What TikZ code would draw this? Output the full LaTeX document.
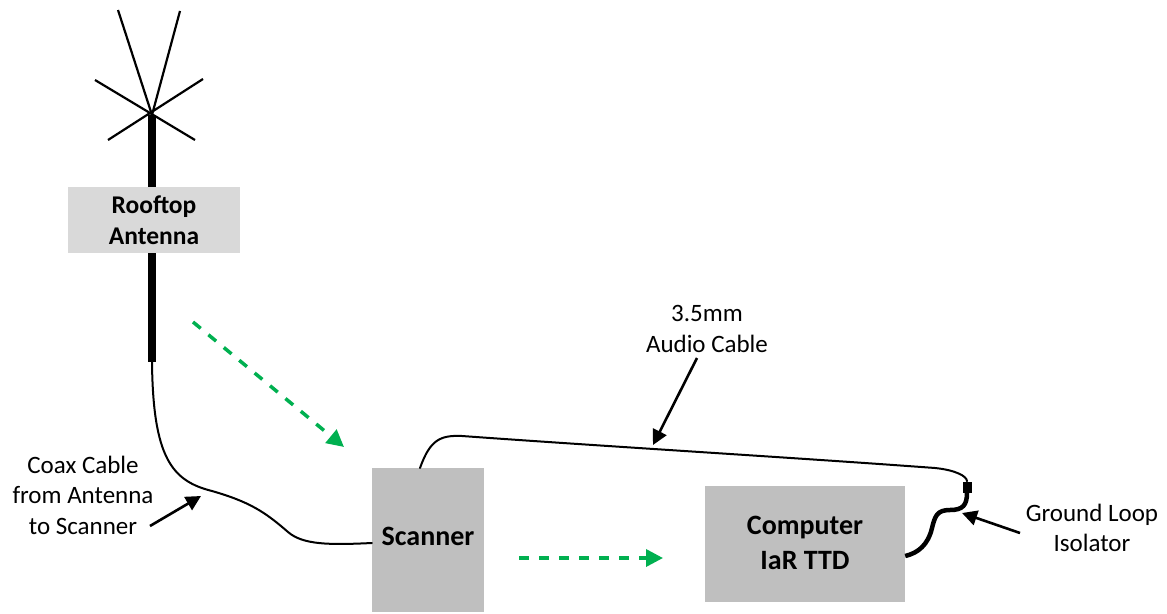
\documentclass[tikz,border=0pt]{standalone}
\usepackage{fontspec}
\setmainfont{Carlito}
\usetikzlibrary{arrows.meta}
\definecolor{boxlight}{HTML}{D9D9D9}
\definecolor{boxgray}{HTML}{BFBFBF}
\definecolor{flowgreen}{HTML}{00B050}
\tikzset{
  lbl/.style={align=center, font=\fontsize{25}{30.5}\selectfont, inner sep=0pt},
  boxlbl/.style={align=center, font=\bfseries\fontsize{28}{35}\selectfont, inner sep=0pt},
  callout/.style={line width=2.6pt, -{Triangle[length=15pt,width=15pt]}},
  flow/.style={line width=3.5pt, flowgreen, dash pattern=on 10pt off 10pt, -{Triangle[length=17pt,width=17pt]}},
  cable/.style={line width=2pt, line cap=round},
  spoke/.style={line width=2.2pt},
}
\begin{document}
\begin{tikzpicture}[x=1pt,y=-1pt]
\useasboundingbox (0,0) rectangle (1167,613);
% antenna
\coordinate (ant) at (152,115);
\coordinate (mastbot) at (152,362);
\draw[spoke] (118,10) -- (ant);
\draw[spoke] (180,11) -- (ant);
\draw[spoke] (95,80) -- (195,140);
\draw[spoke] (203,79) -- (108,140);
\draw[line width=7.5pt] (ant) -- (mastbot);
\node[fill=boxlight, minimum width=172pt, minimum height=66pt, inner sep=0pt] (roof) at (154,220) {};
\node[boxlbl, font=\bfseries\fontsize{25.5}{31}\selectfont] at (roof) {Rooftop\\Antenna};
% boxes
\node[fill=boxgray, minimum width=112pt, minimum height=144pt, inner sep=0pt] (scan) at (428,540) {};
\node[boxlbl] at (428,536) {Scanner};
\node[fill=boxgray, minimum width=200pt, minimum height=116pt, inner sep=0pt] (comp) at (805,544) {};
\node[boxlbl] at (805,543) {Computer\\IaR TTD};
% coax cable
\coordinate (scanin) at (scan.west |- 0,543);
\draw[cable] (mastbot) .. controls (153,458) and (172,481) .. (212,491)
  .. controls (250,502) and (265,512) .. (288,532)
  .. controls (303,545) and (330,545) .. (scanin);
% audio cable
\coordinate (scantop) at (420,468);
\node[fill=black, minimum width=9pt, minimum height=11pt, inner sep=0pt] (iso) at (967,487) {};
\draw[cable] (scantop) .. controls (430,440) and (440,435) .. (462,436)
  .. controls (600,446) and (800,458) .. (935,468)
  .. controls (955,470) and (967,476) .. (iso.north);
\coordinate (compin) at (comp.east |- 0,556);
\draw[line width=4.5pt] (iso.south) .. controls (967,505) and (963,510) .. (950,510)
  .. controls (937,510) and (935,516) .. (932,528)
  .. controls (928,545) and (918,553) .. (compin);
% flow arrows
\coordinate (f1a) at (193,322);
\coordinate (f1b) at (344,447);
\coordinate (f2a) at (519,558);
\coordinate (f2b) at (663,558);
\draw[flow] (f1a) -- (f1b);
\draw[flow] (f2a) -- (f2b);
% labels
\node[lbl] (audiolbl) at (707,329) {3.5mm\\Audio Cable};
\coordinate (a1) at (697,358);
\coordinate (a2) at (653,445);
\draw[callout] (a1) -- (a2);
\node[lbl] (coaxlbl) at (83,495) {Coax Cable\\from Antenna\\to Scanner};
\coordinate (c1) at (150,526);
\coordinate (c2) at (201,496);
\draw[callout] (c1) -- (c2);
\node[lbl] (isolbl) at (1092,528) {Ground Loop\\Isolator};
\coordinate (g1) at (1020,533);
\coordinate (g2) at (962,513);
\draw[callout] (g1) -- (g2);
\end{tikzpicture}
\end{document}
